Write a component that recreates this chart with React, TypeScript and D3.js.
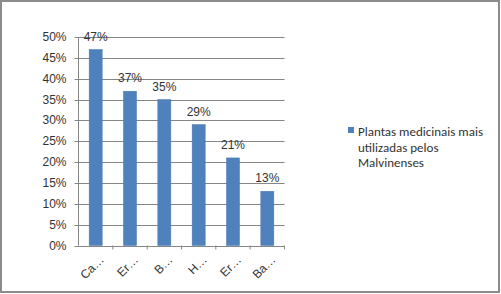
import React from "react";
import * as d3 from "d3";

const categories = ["Ca…", "Er…", "B…", "H…", "Er…", "Ba…"];
const values = [47, 37, 35, 29, 21, 13];
const yTicks = [0, 5, 10, 15, 20, 25, 30, 35, 40, 45, 50];
const seriesName = ["Plantas medicinais mais", "utilizadas pelos", "Malvinenses"];

export default function App() {
  const W = 501, H = 294;
  const x0 = 78.5, x1 = 284.5, yTop = 37, yBot = 245.5;
  const x = d3.scaleBand<string>().domain(categories.map((c, i) => i + "")).range([x0, x1]).paddingInner(0.62).paddingOuter(0.31);
  const y = d3.scaleLinear().domain([0, 50]).range([yBot, yTop]);
  const step = (x1 - x0) / categories.length;
  const grid = "#868686";
  const font = "'Liberation Sans', Arial, sans-serif";
  return (
    <svg width={W} height={H} style={{ position: "absolute", left: 0, top: 0 }}>
      <rect x={0} y={0} width={W} height={H} fill="white" />
      <rect x={1} y={1} width={498} height={291} fill="none" stroke="#8c8c8c" strokeWidth={2} />
      {yTicks.map((t) => (
        <g key={t}>
          <line x1={x0 - 4} x2={x1} y1={Math.round(y(t)) + 0.5} y2={Math.round(y(t)) + 0.5} stroke={grid} strokeWidth={1} />
          <text x={x0 - 12} y={y(t) + 4} textAnchor="end" fontFamily={font} fontSize={12} fill="#333">{t}%</text>
        </g>
      ))}
      <line x1={x0} x2={x0} y1={yTop} y2={yBot} stroke={grid} />
      {categories.map((c, i) => (
        <line key={"t" + i} x1={x0 + step * (i + 1)} x2={x0 + step * (i + 1)} y1={yBot} y2={yBot + 4} stroke={grid} />
      ))}
      {values.map((v, i) => {
        const bx = x(i + "")!;
        return (
          <g key={i}>
            <rect x={bx} y={y(v)} width={x.bandwidth()} height={yBot - y(v)} fill="#4F81BD" stroke="#4a7ab3" strokeWidth={0.5} />
            <text x={bx + x.bandwidth() / 2} y={y(v) - 9} textAnchor="middle" fontFamily={font} fontSize={12} fill="#333">{v}%</text>
          </g>
        );
      })}
      {categories.map((c, i) => {
        const cx = x0 + step * (i + 0.5) + 9;
        return (
          <text key={"c" + i} transform={`translate(${cx},${yBot + 15}) rotate(-45)`} textAnchor="end" fontFamily={font} fontSize={12} fill="#333">{c}</text>
        );
      })}
      <rect x={348} y={127} width={6} height={6} fill="#4F81BD" />
      {seriesName.map((s, i) => (
        <text key={s} x={358} y={136 + i * 15.5} fontFamily="Carlito, Lato, 'Open Sans', sans-serif" fontSize={13} fill="#333">{s}</text>
      ))}
    </svg>
  );
}
